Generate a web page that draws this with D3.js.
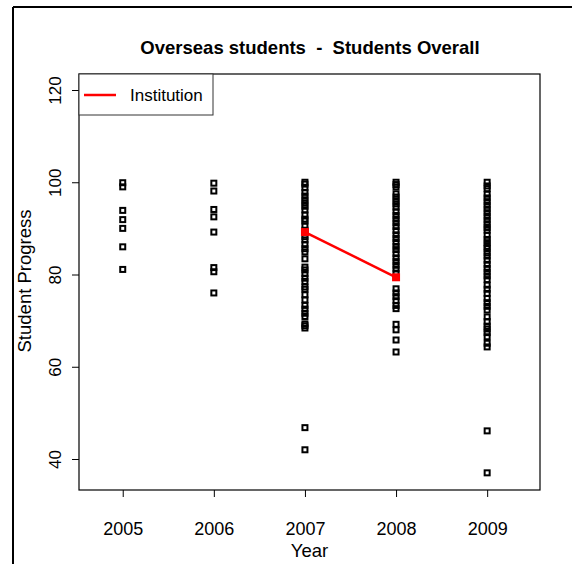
<!DOCTYPE html>
<html>
<head>
<meta charset="utf-8">
<script src="https://cdn.jsdelivr.net/npm/d3@7"></script>
<style>
  html, body { margin: 0; padding: 0; background: #fff; }
  svg { display: block; font-family: "Liberation Sans", Arial, Helvetica, sans-serif; }
</style>
</head>
<body>
<svg id="chart" width="572" height="564"></svg>
<script>
// ---- data ----
const years = [2005, 2006, 2007, 2008, 2009];
const values2005 = [99.9, 99.0, 93.9, 91.9, 90.0, 86.0, 81.1];
const values2006 = [99.8, 98.1, 94.1, 92.5, 89.2, 81.5, 80.6, 76.0];
const values2007 = [100, 99.6, 98.8, 97.8, 97.0, 96.2, 95.5, 94.8, 94.0, 92.9, 92.0, 91.6, 90.5, 89.6, 88.2, 87.5, 86.5, 85.6, 84.9, 83.4, 81.6, 81.0, 80.2, 79.2, 78.5, 77.3, 76.8, 75.6, 74.5, 73.3, 72.5, 71.6, 70.9, 69.3, 68.9, 68.4, 46.8, 42.0];
const values2008 = [100, 99.5, 99, 97.5, 96.8, 96.0, 95.3, 94.6, 93.6, 92.8, 92.0, 91.2, 90.4, 89.5, 88.6, 87.8, 87.0, 86.1, 85.4, 84.5, 83.6, 82.8, 82.0, 81.2, 80.3, 76.9, 76.0, 75.2, 74.3, 73.3, 72.6, 69.2, 68.0, 65.8, 63.2];
const values2009 = [100, 99.2, 98.6, 97.4, 96.6, 95.8, 95.0, 94.2, 93.4, 92.6, 91.8, 91.0, 90.2, 89.6, 88.5, 87.6, 86.9, 86.1, 85.6, 84.7, 84.0, 83.1, 82.2, 81.3, 80.5, 79.7, 78.9, 77.7, 76.8, 75.9, 74.8, 73.9, 73.1, 72.3, 70.8, 69.8, 68.8, 68.2, 67.4, 66.5, 65.1, 64.3, 46.1, 37.0];
const institutionYears = [2007, 2008];
const institutionValues = [89.2, 79.4];
const yTicks = [40, 60, 80, 100, 120];
const titleText = "Overseas students  -  Students Overall";
const xLabel = "Year";
const yLabel = "Student Progress";
const legendLabel = "Institution";

const allValues = [values2005, values2006, values2007, values2008, values2009];

// ---- layout ----
const svg = d3.select("#chart");
const plot = { left: 79, right: 540, top: 74, bottom: 490 };

const x = d3.scaleLinear().domain([2004.52, 2009.58]).range([plot.left, plot.right]);
const y = d3.scaleLinear().domain([33.28, 123.47]).range([plot.bottom, plot.top]);

// outer frame (partial)
svg.append("line").attr("x1", 13).attr("y1", 7).attr("x2", 572).attr("y2", 7)
  .attr("stroke", "#000").attr("stroke-width", 2);
svg.append("line").attr("x1", 13).attr("y1", 7).attr("x2", 13).attr("y2", 564)
  .attr("stroke", "#000").attr("stroke-width", 2);

// title
svg.append("text").attr("x", 310).attr("y", 54).attr("text-anchor", "middle")
  .attr("font-weight", "bold").attr("font-size", 18.5)
  .style("white-space", "pre").attr("xml:space", "preserve").text(titleText);

// x axis
const xAxis = d3.axisBottom(x).tickValues(years).tickFormat(d3.format("d")).tickSize(7).tickSizeOuter(0);
const gx = svg.append("g").attr("transform", `translate(0,${plot.bottom})`).call(xAxis);
gx.select(".domain").remove();
gx.selectAll("line").attr("stroke", "#000");
gx.selectAll("text").attr("font-size", 18).attr("fill", "#000").attr("dy", null).attr("y", 45)
  .attr("font-family", "Liberation Sans, Arial, sans-serif");

// y axis
const yAxis = d3.axisLeft(y).tickValues(yTicks).tickSize(7).tickSizeOuter(0);
const gy = svg.append("g").attr("transform", `translate(${plot.left},0)`).call(yAxis);
gy.select(".domain").remove();
gy.selectAll("line").attr("stroke", "#000");
gy.selectAll("text").attr("font-size", 17).attr("fill", "#000")
  .attr("font-family", "Liberation Sans, Arial, sans-serif")
  .attr("x", null).attr("dy", null)
  .attr("text-anchor", "middle")
  .attr("transform", "translate(-18,0) rotate(-90)");

// plot box
svg.append("rect").attr("x", plot.left).attr("y", plot.top)
  .attr("width", plot.right - plot.left).attr("height", plot.bottom - plot.top)
  .attr("fill", "none").attr("stroke", "#000").attr("stroke-width", 1.2);

// axis labels
svg.append("text").attr("x", (plot.left + plot.right) / 2).attr("y", 557)
  .attr("text-anchor", "middle").attr("font-size", 18.5).text(xLabel);
svg.append("text").attr("transform", `translate(31,281) rotate(-90)`)
  .attr("text-anchor", "middle").attr("font-size", 18.5).text(yLabel);

// points
const pts = [];
years.forEach((yr, i) => allValues[i].forEach(v => pts.push({ yr, v })));
const s = 5;
svg.append("g").selectAll("rect").data(pts).join("rect")
  .attr("x", d => x(d.yr) - s / 2).attr("y", d => y(d.v) - s / 2)
  .attr("width", s).attr("height", s)
  .attr("fill", "none").attr("stroke", "#000").attr("stroke-width", 2);

// institution line
const inst = institutionYears.map((yr, i) => ({ yr, v: institutionValues[i] }));
svg.append("path").datum(inst)
  .attr("d", d3.line().x(d => x(d.yr)).y(d => y(d.v)))
  .attr("fill", "none").attr("stroke", "#ff0000").attr("stroke-width", 2.5);
const rs = 8;
svg.append("g").selectAll("rect").data(inst).join("rect")
  .attr("x", d => x(d.yr) - rs / 2).attr("y", d => y(d.v) - rs / 2)
  .attr("width", rs).attr("height", rs).attr("fill", "#ff0000");

// legend
const lg = svg.append("g");
lg.append("rect").attr("x", plot.left).attr("y", plot.top).attr("width", 134).attr("height", 41)
  .attr("fill", "#fff").attr("stroke", "#333").attr("stroke-width", 1);
lg.append("line").attr("x1", 84).attr("x2", 116).attr("y1", 95).attr("y2", 95)
  .attr("stroke", "#ff0000").attr("stroke-width", 2.5);
lg.append("text").attr("x", 130).attr("y", 101).attr("font-size", 17).text(legendLabel);
</script>
</body>
</html>
